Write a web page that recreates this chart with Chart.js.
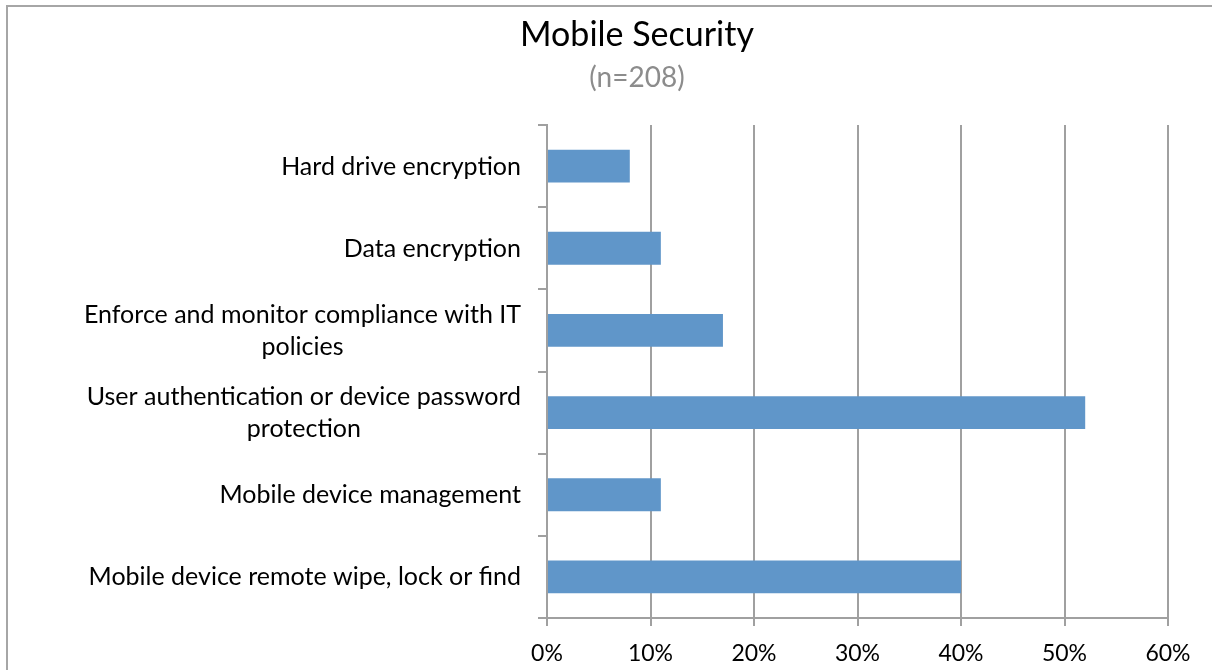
<!DOCTYPE html>
<html>
<head>
<meta charset="utf-8">
<script src="https://cdn.jsdelivr.net/npm/chart.js@4"></script>
<style>
  html, body { margin: 0; padding: 0; background: #fff; overflow: hidden; }
  #wrap { position: relative; width: 1212px; height: 670px; }
  #frame { position: absolute; left: 6px; top: 5px; right: -10px; bottom: -10px;
           border-left: 2px solid #a6a6a6; border-top: 2px solid #a6a6a6; pointer-events: none; }
</style>
</head>
<body>
<div id="wrap">
  <canvas id="c" width="1212" height="670"></canvas>
  <div id="frame"></div>
</div>
<script>
// categorias (cada uma pode ter duas linhas)
const categories = [
  ['Hard drive encryption'],
  ['Data encryption'],
  ['Enforce and monitor compliance with IT', 'policies'],
  ['User authentication or device password', 'protection'],
  ['Mobile device management'],
  ['Mobile device remote wipe, lock or find']
];
const values = [8, 11, 17, 52, 11, 40];
const tickLabels = ['0%', '10%', '20%', '30%', '40%', '50%', '60%'];

const FONT = 'Lato, "Open Sans", sans-serif';
const gridColor = '#a0a0a0';

// desenha os rótulos do eixo y: bloco alinhado à direita, linhas centradas
const labelPlugin = {
  id: 'wrappedLabels',
  afterDraw(chart) {
    const y = chart.scales.y;
    const ctx = chart.ctx;
    const size = 25;
    ctx.save();
    ctx.font = size + 'px ' + FONT;
    ctx.fillStyle = '#000';
    ctx.textBaseline = 'alphabetic';
    ctx.textAlign = 'center';
    categories.forEach((lines, i) => {
      const w = Math.max(...lines.map(l => ctx.measureText(l).width));
      const cx = y.right - 26 - w / 2;
      const cy = y.getPixelForTick(i) + 8.5;
      lines.forEach((l, j) => {
        ctx.fillText(l, cx, cy + (j - (lines.length - 1) / 2) * 32);
      });
    });
    ctx.restore();
  }
};

new Chart(document.getElementById('c'), {
  type: 'bar',
  data: {
    labels: categories,
    datasets: [{
      label: 'Mobile Security',
      data: values,
      backgroundColor: '#6096c9',
      barPercentage: 0.4,
      categoryPercentage: 1.0
    }]
  },
  options: {
    indexAxis: 'y',
    responsive: false,
    animation: false,
    layout: { padding: { top: 0, bottom: 0, left: 62, right: 0 } },
    plugins: {
      legend: { display: false },
      tooltip: { enabled: false },
      title: {
        display: true,
        text: 'Mobile Security',
        color: '#000',
        font: { family: FONT, size: 34, weight: 'normal' },
        padding: { top: 15, bottom: 0 }
      },
      subtitle: {
        display: true,
        text: '(n=208)',
        color: '#8c8c8c',
        font: { family: FONT, size: 28, weight: 'normal' },
        padding: { top: 5.4, bottom: 30.2 }
      }
    },
    scales: {
      x: {
        min: 0,
        max: 60,
        ticks: {
          stepSize: 10,
          color: '#000',
          font: { family: FONT, size: 23 },
          padding: 14,
          callback: (v, i) => tickLabels[i]
        },
        grid: { color: gridColor, lineWidth: 2, tickLength: 8, drawTicks: true },
        border: { color: gridColor, width: 2 },
        afterFit(scale) { scale.height = 52; scale.paddingRight = 44; }
      },
      y: {
        ticks: { display: false },
        grid: { drawOnChartArea: false, color: gridColor, lineWidth: 2, tickLength: 9, offset: true },
        border: { color: gridColor, width: 2 },
        afterFit(scale) { scale.width = 485; }
      }
    }
  },
  plugins: [labelPlugin]
});
</script>
</body>
</html>
